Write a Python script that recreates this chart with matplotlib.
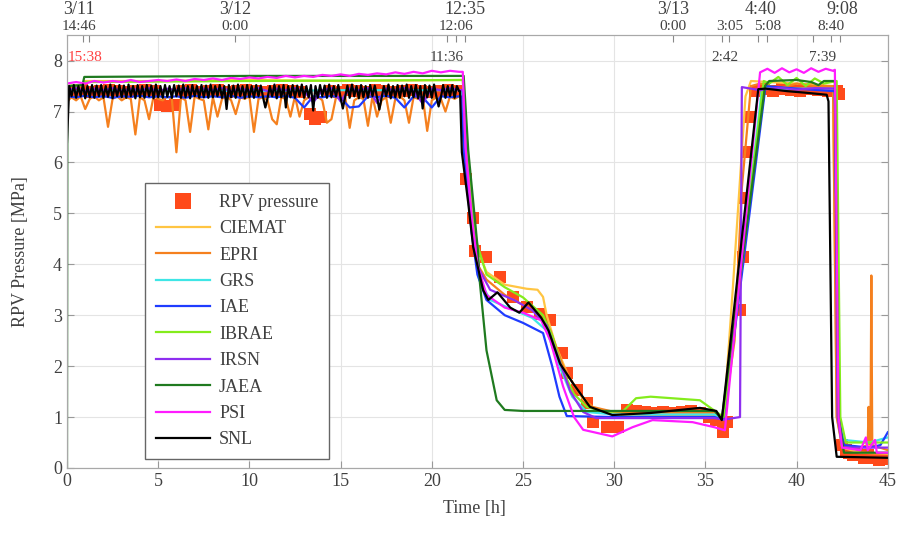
import numpy as np
import matplotlib.pyplot as plt
from matplotlib.lines import Line2D

plt.rcParams['font.family'] = ['Liberation Serif', 'DejaVu Serif']

grid_e = np.arange(0, 21.51, 0.125)  # 173 samples
grid_q = np.arange(0, 21.51, 0.25)   # 87 samples
grid_h = np.arange(0, 21.51, 0.5)    # 44 samples

# --- measured RPV pressure (squares)
rpv_t = [0.3, 0.8, 1.3, 1.8, 2.3, 2.8, 3.3, 3.8, 4.3, 4.8,
         5.1, 5.5, 5.9,
         6.3, 6.8, 7.3, 7.8, 8.3, 8.8, 9.3, 9.8, 10.3, 10.8, 11.3, 11.8, 12.3, 12.8,
         13.3, 13.6, 13.9,
         14.4, 14.9, 15.4, 15.9, 16.4, 16.9, 17.4, 17.9, 18.4, 18.9, 19.4, 19.9, 20.4, 20.9, 21.4,
         21.9, 22.28, 22.37, 23.0, 23.74, 24.47, 25.2, 25.93, 26.48, 27.12,
         27.4, 27.94, 28.5, 28.85, 29.6, 30.2, 30.7, 31.2, 31.7, 32.2,
         32.7, 33.2, 33.7, 34.2, 34.7, 35.2, 35.6, 35.97, 36.2, 36.9,
         37.05, 37.17, 37.3, 37.45, 37.7, 38.2, 38.7, 39.2, 39.7, 40.2,
         40.7, 41.2, 41.7, 42.2, 42.35, 42.5, 42.7, 42.9, 43.1, 43.3,
         43.5, 43.7, 43.9, 44.1, 44.3, 44.5, 44.7, 44.9]
rpv_p = [7.4, 7.42, 7.38, 7.4, 7.42, 7.4, 7.38, 7.4, 7.42, 7.4,
         7.12, 7.1, 7.12,
         7.4, 7.42, 7.38, 7.4, 7.42, 7.38, 7.4, 7.42, 7.4, 7.38, 7.4, 7.42, 7.4, 7.38,
         6.95, 6.85, 6.9,
         7.4, 7.38, 7.42, 7.4, 7.38, 7.42, 7.4, 7.38, 7.4, 7.42, 7.4, 7.38, 7.4, 7.42, 7.4,
         5.68, 4.9, 4.27, 4.14, 3.75, 3.36, 3.16, 3.03, 2.9, 2.25,
         1.86, 1.53, 1.27, 0.91, 0.81, 0.81, 1.14, 1.12, 1.1, 1.08,
         1.1, 1.08, 1.1, 1.12, 1.08, 1.0, 0.95, 0.7, 0.9, 3.1,
         4.14, 5.3, 6.2, 6.9, 7.4, 7.45, 7.4, 7.45, 7.42, 7.4,
         7.45, 7.42, 7.4, 7.4, 7.35, 0.45, 0.35, 0.3, 0.25, 0.3,
         0.25, 0.2, 0.25, 0.2, 0.2, 0.15, 0.2, 0.18]

# --- CIEMAT
ciemat_t = [0, 0.85, 0.95, 5, 10, 15, 21.7, 21.9, 22.2, 22.5,
            23.0, 24.0, 25.2, 25.8, 26.1, 26.3, 26.8, 27.5, 28.3, 29.0,
            30.0, 33.0, 35.5, 36.0, 36.5, 37.2, 37.5, 40.0, 42.0, 42.2,
            42.5, 43.5, 45.0]
ciemat_p = [7.5, 7.52, 7.6, 7.6, 7.62, 7.6, 7.62, 6.5, 5.2, 4.3,
            3.85, 3.6, 3.52, 3.5, 3.36, 3.0, 2.4, 1.8, 1.35, 1.15,
            1.05, 1.05, 1.05, 0.95, 3.5, 7.3, 7.6, 7.55, 7.5, 1.0,
            0.4, 0.3, 0.28]

# --- EPRI (first plateau on grid_q, then the rest)
epri_p1 = [7.2, 7.28, 7.22, 7.3, 7.05, 7.25, 7.3, 7.22,
           7.28, 6.7, 7.25, 7.3, 7.22, 7.28, 7.25, 6.55,
           7.28, 7.22, 6.85, 7.3, 7.25, 7.22, 7.3, 7.25,
           6.2, 7.28, 7.22, 6.6, 7.3, 7.25, 7.22, 6.65,
           7.28, 6.9, 7.25, 7.3, 7.22, 6.95, 7.28, 7.25,
           7.3, 6.6, 7.25, 7.28, 7.22, 6.85, 6.75, 7.28,
           7.25, 6.9, 7.3, 6.9, 7.22, 7.28, 7.25, 7.3,
           7.22, 6.78, 6.85, 7.28, 7.25, 7.3, 6.68, 7.22,
           7.28, 7.25, 6.72, 7.3, 6.9, 7.22, 7.28, 6.78,
           7.25, 7.3, 7.22, 6.78, 7.28, 7.25, 7.3, 6.62,
           7.22, 7.28, 7.25, 7.0, 7.3, 7.25, 7.3]
epri_t2 = [21.7, 21.85, 22.2, 22.5, 23.0, 24.0, 25.0, 26.0, 26.5, 27.2,
           28.0, 28.8, 30.0, 33.0, 35.5, 36.0, 36.6, 37.0, 37.5, 38.0,
           39.0, 40.0, 41.0, 42.0, 42.2, 42.5, 43.5, 43.9, 43.95, 44.0,
           44.05, 44.1, 44.15, 45.0]
epri_p2 = [7.3, 6.0, 4.8, 4.0, 3.7, 3.4, 3.2, 3.0, 2.7, 2.0,
           1.5, 1.2, 1.1, 1.1, 1.1, 0.95, 2.5, 5.5, 7.5, 7.55,
           7.45, 7.55, 7.5, 7.5, 1.0, 0.45, 0.4, 0.45, 1.2, 0.5,
           0.45, 3.78, 0.45, 0.35]

# --- GRS
grs_t = [0, 5, 10, 15, 21.6, 21.8, 22.2, 22.6, 23.2, 24.5,
         25.5, 26.3, 27.0, 27.7, 28.5, 30.0, 33.0, 35.5, 36.0, 37.0,
         38.1, 40.0, 42.1, 42.3, 42.6, 44.0, 45.0]
grs_p = [7.4, 7.42, 7.4, 7.42, 7.42, 6.2, 4.6, 3.7, 3.3, 3.1,
         2.95, 2.7, 2.0, 1.4, 1.1, 1.05, 1.05, 1.05, 0.95, 4.0,
         7.45, 7.45, 7.45, 1.0, 0.55, 0.5, 0.6]

# --- IAE (first plateau on grid_h)
iae_p1 = [7.3, 7.28, 7.31, 7.28, 7.3, 7.27, 7.3, 7.29, 7.31, 7.28, 7.3,
          7.28, 7.3, 7.27, 7.31, 7.28, 7.3, 7.28, 7.31, 7.27, 7.3, 7.28,
          7.3, 7.28, 7.31, 7.27, 7.08, 7.3, 7.28, 7.31, 7.27, 7.08, 7.1,
          7.3, 7.28, 7.31, 7.27, 7.08, 7.3, 7.28, 7.08, 7.3, 7.28, 7.3]
iae_t2 = [21.6, 21.8, 22.2, 22.5, 23.0, 24.0, 25.0, 26.1, 26.6, 27.0,
          27.4, 30.0, 35.5, 36.0, 38.3, 40.0, 42.1, 42.3, 42.6, 44.0,
          44.6, 45.0]
iae_p2 = [7.3, 6.0, 4.6, 3.8, 3.3, 3.0, 2.85, 2.65, 2.0, 1.4,
          1.02, 1.0, 1.0, 0.95, 7.5, 7.45, 7.4, 1.0, 0.45, 0.4,
          0.45, 0.7]

# --- IBRAE
ibrae_t = [0, 0.9, 1.0, 10, 21.7, 22.0, 22.4, 23.0, 24.0, 25.0,
           26.1, 26.6, 27.2, 27.8, 28.5, 29.5, 30.5, 31.2, 32.0, 34.7,
           35.6, 36.0, 38.2, 38.5, 39.0, 39.5, 40.0, 40.5, 41.0, 41.5,
           42.2, 42.4, 42.7, 45.0]
ibrae_p = [7.5, 7.52, 7.58, 7.6, 7.62, 6.0, 4.5, 3.8, 3.55, 3.35,
           3.0, 2.6, 1.9, 1.45, 1.2, 1.1, 1.12, 1.37, 1.4, 1.33,
           1.1, 1.0, 7.6, 7.55, 7.68, 7.52, 7.66, 7.5, 7.65, 7.55,
           7.6, 1.0, 0.5, 0.5]

# --- IRSN (first plateau on grid_h)
irsn_p1 = [7.42, 7.46, 7.4, 7.45, 7.42, 7.46, 7.4, 7.45, 7.42, 7.46, 7.4,
           7.45, 7.42, 7.46, 7.4, 7.45, 7.42, 7.46, 7.4, 7.45, 7.42, 7.46,
           7.4, 7.45, 7.42, 7.46, 7.4, 7.18, 7.42, 7.46, 7.2, 7.45, 7.42,
           7.46, 7.17, 7.45, 7.42, 7.46, 7.4, 7.16, 7.45, 7.42, 7.46, 7.42]
irsn_t2 = [21.7, 21.9, 22.2, 22.6, 23.2, 24.5, 25.5, 26.3, 27.0, 27.6,
           28.3, 29.0, 33.0, 35.5, 36.0, 36.9, 37.0, 38.0, 39.0, 40.0,
           41.0, 42.1, 42.25, 42.5, 45.0]
irsn_p2 = [7.42, 6.0, 4.8, 3.9, 3.5, 3.3, 3.1, 2.8, 2.1, 1.5,
           1.1, 0.98, 0.98, 0.98, 0.95, 1.0, 7.48, 7.42, 7.47, 7.43,
           7.46, 7.45, 1.0, 0.4, 0.4]

# --- JAEA
jaea_t = [0, 0.02, 0.85, 0.95, 10, 21.75, 22.0, 22.53, 22.64, 23.0,
          23.56, 24.0, 25.0, 35.5, 35.9, 37.0, 38.27, 38.5, 40.0, 40.8,
          41.2, 41.5, 42.1, 42.3, 42.6, 45.0]
jaea_p = [0, 7.5, 7.52, 7.68, 7.7, 7.7, 6.24, 4.27, 3.63, 2.31,
          1.33, 1.14, 1.12, 1.12, 0.96, 4.0, 7.5, 7.6, 7.62, 7.58,
          7.52, 7.6, 7.6, 1.0, 0.3, 0.3]

# --- PSI (first plateau on grid_h)
psi_p1 = [7.55, 7.58, 7.55, 7.6, 7.57, 7.6, 7.58, 7.62, 7.58, 7.6, 7.62,
          7.6, 7.63, 7.6, 7.64, 7.62, 7.65, 7.62, 7.66, 7.64, 7.67, 7.65,
          7.68, 7.66, 7.7, 7.67, 7.7, 7.68, 7.72, 7.7, 7.73, 7.7, 7.74,
          7.72, 7.75, 7.73, 7.77, 7.74, 7.78, 7.75, 7.8, 7.77, 7.8, 7.78]
psi_t2 = [21.7, 21.85, 22.2, 22.5, 23.0, 24.0, 25.0, 26.0, 26.5, 27.2,
          27.8, 28.3, 29.9, 31.0, 32.1, 34.3, 35.5, 36.07, 38.0, 38.4,
          38.8, 39.2, 39.6, 40.0, 40.4, 40.8, 41.2, 41.6, 42.0, 42.1,
          42.3, 42.5, 43.5, 43.8, 43.9, 44.3, 44.4, 45.0]
psi_p2 = [7.78, 6.3, 4.9, 4.0, 3.4, 3.15, 3.05, 2.9, 2.5, 1.6,
          1.0, 0.75, 0.62, 0.8, 0.94, 0.9, 0.8, 0.74, 7.77, 7.84,
          7.76, 7.85, 7.77, 7.83, 7.76, 7.85, 7.78, 7.84, 7.8, 7.82,
          1.0, 0.4, 0.35, 0.6, 0.35, 0.55, 0.3, 0.3]

# --- SNL (first plateau on grid_e)
snl_p1 = [6.4, 7.5, 7.3, 7.52, 7.27, 7.5, 7.3, 7.53, 7.26, 7.5, 7.28, 7.52, 7.27, 7.51, 7.3, 7.52,
          7.27, 7.5, 7.29, 7.53, 7.26, 7.5, 7.3, 7.52, 7.28, 7.51, 7.27, 7.53, 7.3, 7.5, 7.26, 7.52,
          7.28, 7.5, 7.27, 7.52, 7.3, 7.51, 7.26, 7.53, 7.28, 7.5, 7.27, 7.52, 7.29, 7.5, 7.27, 7.52,
          7.3, 7.51, 7.27, 7.53, 7.28, 7.5, 7.26, 7.52, 7.3, 7.5, 7.27, 7.52, 7.28, 7.51, 7.27, 7.53,
          7.28, 7.5, 7.3, 7.52, 7.27, 7.5, 7.05, 7.52, 7.28, 7.51, 7.27, 7.53, 7.3, 7.5, 7.26, 7.52,
          7.28, 7.5, 7.27, 7.52, 7.3, 7.51, 7.28, 7.08, 7.27, 7.5, 7.3, 7.53, 7.26, 7.5, 7.28, 7.52,
          7.08, 7.5, 7.28, 7.52, 7.27, 7.51, 7.3, 7.53, 7.27, 7.5, 7.28, 7.52, 7.02, 7.5, 7.27, 7.52,
          7.3, 7.51, 7.27, 7.53, 7.28, 7.5, 7.3, 7.52, 7.27, 7.06, 7.28, 7.51, 7.27, 7.53, 7.3, 7.5,
          7.26, 7.52, 7.28, 7.5, 7.27, 7.52, 7.3, 7.51, 7.28, 7.04, 7.27, 7.5, 7.3, 7.53, 7.26, 7.5,
          7.28, 7.52, 7.27, 7.51, 7.3, 7.53, 7.27, 7.5, 7.28, 7.52, 7.26, 7.5, 7.06, 7.52, 7.28, 7.51,
          7.27, 7.53, 7.3, 7.1, 7.28, 7.52, 7.27, 7.5, 7.3, 7.52, 7.27, 7.5, 7.4]
snl_t2 = [21.55, 21.65, 22.0, 22.27, 22.82, 23.1, 23.6, 24.3, 24.8, 25.3,
          26.0, 26.4, 27.03, 27.75, 28.67, 29.9, 32.0, 34.7, 35.6, 35.9,
          37.9, 38.3, 39.5, 40.5, 41.65, 41.75, 41.95, 42.2, 45.0]
snl_p2 = [7.4, 6.2, 5.2, 4.34, 3.49, 3.3, 3.45, 3.15, 3.05, 3.25,
          2.95, 2.7, 2.05, 1.66, 1.2, 1.04, 1.08, 1.18, 1.12, 0.94,
          7.44, 7.45, 7.4, 7.37, 7.33, 7.2, 1.0, 0.22, 0.2]

# top time axis
top_ticks = [0.87, 1.2, 9.23, 20.83, 21.33, 21.82, 33.23, 35.93, 36.32,
             37.9, 38.37, 40.88, 41.9, 42.37]
row1_t = [0.65, 9.23, 21.82, 33.23, 38.0, 42.5]
row1_lbl = ['3/11', '3/12', '12:35', '3/13', '4:40', '9:08']
row2_t = [0.65, 9.23, 21.33, 33.23, 36.35, 38.4, 41.9]
row2_lbl = ['14:46', '0:00', '12:06', '0:00', '3:05', '5:08', '8:40']
inner_t = [20.83, 36.07, 41.4]
inner_lbl = ['11:36', '2:42', '7:39']

series = [
    ('CIEMAT', '#ffc542', ciemat_t, ciemat_p),
    ('EPRI', '#f5801e', list(grid_q) + epri_t2, epri_p1 + epri_p2),
    ('GRS', '#3fe6e6', grs_t, grs_p),
    ('IAE', '#1f3cff', list(grid_h) + iae_t2, iae_p1 + iae_p2),
    ('IBRAE', '#84ec1c', ibrae_t, ibrae_p),
    ('IRSN', '#8e2ef0', list(grid_h) + irsn_t2, irsn_p1 + irsn_p2),
    ('JAEA', '#1f7a1f', jaea_t, jaea_p),
    ('PSI', '#ff1cff', list(grid_h) + psi_t2, psi_p1 + psi_p2),
    ('SNL', '#000000', list(grid_e) + snl_t2, snl_p1 + snl_p2),
]

txt = '#404040'
fig = plt.figure(figsize=(8.99, 5.33), dpi=100)
ax = fig.add_axes([0.0745, 0.122, 0.913, 0.812])

rpv_col = '#ff4a1a'
ax.plot(rpv_t, rpv_p, ls='none', marker='s', ms=8, mew=0, color=rpv_col, zorder=2)
handles = [Line2D([], [], ls='none', marker='s', ms=11, mew=0, color=rpv_col)]
labels = ['RPV pressure']
for name, col, t, p in series:
    ln, = ax.plot(t, p, color=col, lw=1.6, zorder=3)
    handles.append(ln)
    labels.append(name)

ax.set_xlim(0, 45)
ax.set_ylim(0, 8.5)
ax.set_xticks(range(0, 46, 5))
ax.set_yticks(range(0, 9))
ax.grid(color='#e4e4e4', lw=0.8)
ax.set_axisbelow(True)
ax.tick_params(direction='in', length=5, color='#999999', labelsize=13,
               labelcolor=txt, right=True)
for s in ax.spines.values():
    s.set_color('#a8a8a8')

ax.set_xlabel('Time [h]', fontsize=13, color=txt)
ax.set_ylabel('RPV Pressure [MPa]', fontsize=13, color=txt)
ax.xaxis.set_label_coords(0.496, -0.075)
ax.yaxis.set_label_coords(-0.046, 0.5)

ax2 = ax.twiny()
ax2.set_xlim(0, 45)
ax2.set_xticks(top_ticks)
ax2.set_xticklabels([])
ax2.tick_params(direction='in', length=5, color='#888888')
for s in ax2.spines.values():
    s.set_color('#a8a8a8')

tr = ax.get_xaxis_transform()
for t, s in zip(row1_t, row1_lbl):
    ax.text(t, 1.06, s, transform=tr, ha='center', va='center', fontsize=13, color=txt)
for t, s in zip(row2_t, row2_lbl):
    ax.text(t, 1.02, s, transform=tr, ha='center', va='center', fontsize=11, color=txt)
for t, s in zip(inner_t, inner_lbl):
    ax.text(t, 0.948, s, transform=tr, ha='center', va='center', fontsize=11, color=txt)
ax.text(0.05, 0.948, '15:38', transform=tr, ha='left', va='center', fontsize=11, color='#ff4040')

leg = ax.legend(handles, labels, loc='upper left',
                bbox_to_anchor=(145 / 899, 1 - 183 / 533), bbox_transform=fig.transFigure,
                fancybox=False, framealpha=1, edgecolor='#666666', fontsize=13,
                handlelength=3.0, labelspacing=0.52, borderpad=0.6,
                handletextpad=0.5, borderaxespad=0)
for tx in leg.get_texts():
    tx.set_color(txt)
leg.set_zorder(10)

fig.savefig('out.png', dpi=100)
